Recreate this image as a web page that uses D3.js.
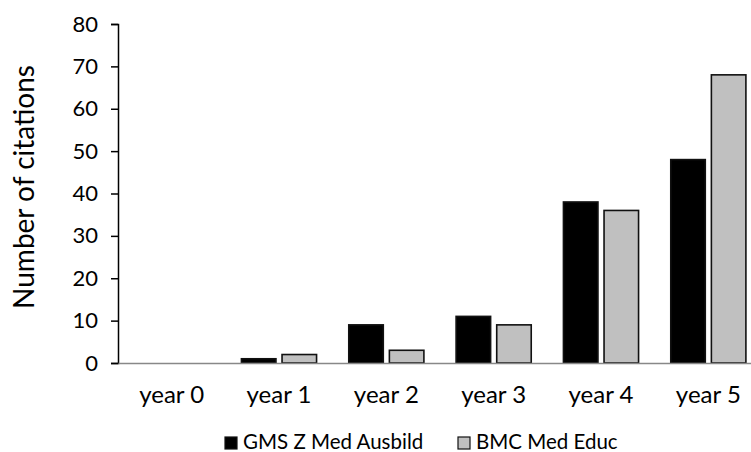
<!DOCTYPE html>
<html>
<head>
<meta charset="utf-8">
<script src="https://cdn.jsdelivr.net/npm/d3@7"></script>
<style>
  html, body { margin: 0; padding: 0; background: #fff; }
  svg { display: block; }
  text { font-family: Lato, "Open Sans", sans-serif; fill: #000; }
</style>
</head>
<body>
<svg id="chart" width="751" height="452"></svg>
<script>
const categories = ["year 0", "year 1", "year 2", "year 3", "year 4", "year 5"];
const seriesNames = ["GMS Z Med Ausbild", "BMC Med Educ"];
const gmsValues = [0, 1, 9, 11, 38, 48];
const bmcValues = [0, 2, 3, 9, 36, 68];
const yTicks = [0, 10, 20, 30, 40, 50, 60, 70, 80];
const colors = ["#000000", "#c0c0c0"];

const svg = d3.select("#chart");
const mLeft = 118, mRight = 762, mTop = 24, mBottom = 363;

const x0 = d3.scaleBand().domain(categories).range([mLeft, mRight]).paddingInner(0.3).paddingOuter(0.15);
const x1 = d3.scaleBand().domain(seriesNames).range([0, x0.bandwidth()]).paddingInner(0.15);
const y = d3.scaleLinear().domain([0, 80]).range([mBottom, mTop]);

const data = categories.map((c, i) => ({cat: c, vals: [gmsValues[i], bmcValues[i]]}));

// bars
const g = svg.append("g");
data.forEach(d => {
  d.vals.forEach((v, j) => {
    if (v <= 0) return;
    g.append("rect")
      .attr("x", x0(d.cat) + x1(seriesNames[j]))
      .attr("y", y(v))
      .attr("width", x1.bandwidth())
      .attr("height", y(0) - y(v))
      .attr("fill", colors[j])
      .attr("stroke", "#111")
      .attr("stroke-width", 1.6);
  });
});

// y axis
const yAxis = d3.axisLeft(y).tickValues(yTicks).tickSize(7).tickPadding(13);
const ya = svg.append("g").attr("transform", `translate(${mLeft},0)`).call(yAxis);
ya.select(".domain").attr("stroke", "#000").attr("stroke-width", 1.5);
ya.selectAll(".tick line").attr("stroke", "#000").attr("stroke-width", 1.5);
ya.selectAll(".tick text").style("font-size", "22px").style("font-family", "Lato, sans-serif").attr("fill", "#000");

// x axis
const xAxis = d3.axisBottom(x0).tickSize(0).tickPadding(23);
const xa = svg.append("g").attr("transform", `translate(0,${mBottom})`).call(xAxis);
xa.select(".domain").attr("stroke", "#888").attr("stroke-width", 1.5);
xa.selectAll(".tick text").style("font-size", "24px").style("font-family", "Lato, sans-serif").attr("fill", "#000");

// y title
svg.append("text")
  .attr("transform", `translate(34,187) rotate(-90)`)
  .attr("text-anchor", "middle")
  .style("font-size", "28px")
  .text("Number of citations");

// legend
const legendX = [225, 458];
seriesNames.forEach((s, j) => {
  svg.append("rect")
    .attr("x", legendX[j]).attr("y", 437)
    .attr("width", 12).attr("height", 12)
    .attr("fill", colors[j]).attr("stroke", "#111").attr("stroke-width", 1.2);
  svg.append("text")
    .attr("x", legendX[j] + 18).attr("y", 449)
    .style("font-size", "20.5px")
    .text(s);
});
</script>
</body>
</html>
